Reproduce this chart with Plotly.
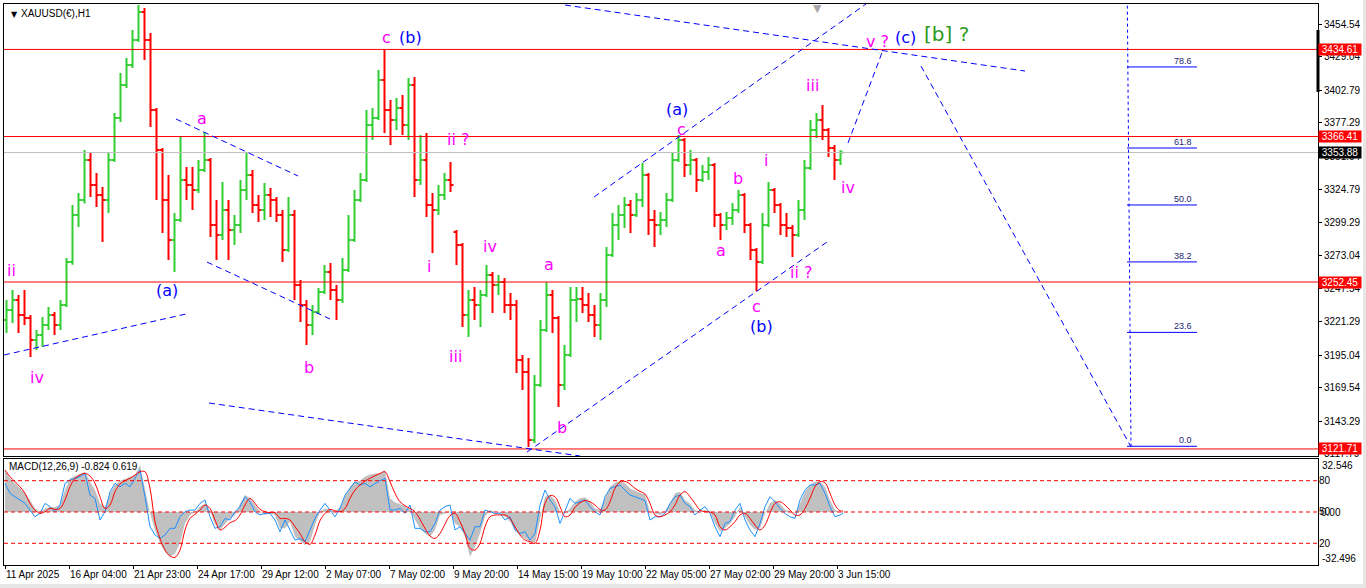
import plotly.graph_objects as go

# ---------------- XAUUSD(€) H1 price data, grouped into 6-hour bars ----------------
bar_open = [
    3222.7, 3230.5, 3238.4, 3226.6, 3224.2, 3207.0, 3211.0, 3218.8, 3226.6, 3218.8,
    3234.5, 3268.1, 3304.9, 3316.7, 3348.0, 3328.4, 3320.6, 3316.7, 3348.0, 3380.9,
    3406.7, 3422.4, 3442.0, 3463.9, 3442.0, 3387.2, 3355.8, 3316.7, 3285.4, 3301.0,
    3332.3, 3328.4, 3324.5, 3340.2, 3348.0, 3297.1, 3289.3, 3308.8, 3293.2, 3297.1,
    3324.5, 3336.3, 3312.8, 3308.8, 3320.6, 3316.7, 3304.9, 3277.5, 3304.9, 3250.1,
    3234.5, 3218.8, 3229.0, 3244.6, 3260.3, 3246.2, 3238.4, 3261.9, 3285.4, 3316.7,
    3332.3, 3375.4, 3380.9, 3410.7, 3387.2, 3379.3, 3388.7, 3375.4, 3406.7, 3332.3,
    3348.0, 3312.8, 3308.8, 3320.6, 3332.3, 3291.6, 3281.4, 3226.6, 3238.4, 3234.5,
    3242.3, 3257.9, 3250.1, 3252.5, 3234.5, 3234.5, 3191.4, 3182.0, 3128.7, 3171.8,
    3214.9, 3242.3, 3224.2, 3171.8, 3195.3, 3238.4, 3239.2, 3234.5, 3226.6, 3218.8,
    3238.4, 3273.6, 3297.1, 3304.9, 3312.8, 3304.9, 3316.7, 3336.3, 3301.0, 3297.1,
    3301.0, 3316.7, 3348.0, 3363.7, 3344.1, 3348.0, 3332.3, 3338.6, 3344.1, 3304.9,
    3297.1, 3302.6, 3308.8, 3320.6, 3297.1, 3277.5, 3268.1, 3297.1, 3324.5, 3312.8,
    3297.1, 3294.7, 3289.3, 3308.8, 3341.7, 3371.5, 3379.3, 3371.5, 3357.4, 3348.0,
]
bar_high = [
    3238.4, 3246.2, 3242.3, 3246.2, 3226.6, 3214.9, 3225.0, 3232.9, 3229.0, 3238.4,
    3271.3, 3312.8, 3322.2, 3355.8, 3353.5, 3337.8, 3326.9, 3353.5, 3384.8, 3416.1,
    3427.9, 3449.8, 3469.4, 3467.0, 3447.5, 3388.7, 3357.4, 3336.3, 3306.5, 3366.0,
    3342.5, 3342.5, 3348.0, 3369.9, 3349.6, 3316.7, 3330.8, 3316.7, 3304.9, 3332.3,
    3353.5, 3340.2, 3320.6, 3330.0, 3326.1, 3319.0, 3308.8, 3319.0, 3308.8, 3254.0,
    3238.4, 3234.5, 3247.8, 3265.8, 3267.4, 3250.1, 3271.3, 3304.9, 3324.5, 3337.8,
    3387.2, 3388.7, 3418.5, 3434.1, 3395.0, 3396.6, 3398.9, 3412.2, 3413.0, 3367.6,
    3369.1, 3322.2, 3328.4, 3337.8, 3346.4, 3293.2, 3283.0, 3246.2, 3248.6, 3246.2,
    3265.8, 3260.3, 3257.9, 3255.6, 3243.8, 3238.4, 3195.3, 3193.0, 3179.6, 3222.7,
    3252.5, 3246.2, 3225.8, 3203.1, 3248.6, 3248.6, 3248.6, 3243.8, 3234.5, 3243.8,
    3279.9, 3306.5, 3312.8, 3319.0, 3316.7, 3322.2, 3345.6, 3337.8, 3308.8, 3307.3,
    3322.2, 3353.5, 3367.6, 3365.2, 3355.8, 3349.6, 3344.1, 3350.4, 3345.6, 3306.5,
    3307.3, 3314.3, 3324.5, 3322.2, 3298.7, 3279.1, 3306.5, 3330.8, 3326.1, 3314.3,
    3306.5, 3297.1, 3316.7, 3348.0, 3379.3, 3384.8, 3391.1, 3373.1, 3359.7, 3355.8,
]
bar_low = [
    3212.6, 3220.3, 3212.6, 3218.8, 3193.7, 3199.2, 3201.6, 3214.9, 3211.0, 3214.9,
    3232.9, 3266.0, 3295.5, 3314.0, 3319.0, 3311.2, 3283.8, 3306.5, 3346.4, 3377.8,
    3404.4, 3420.0, 3440.4, 3426.3, 3373.8, 3316.7, 3290.8, 3269.7, 3260.3, 3299.4,
    3316.7, 3308.8, 3322.2, 3338.6, 3287.7, 3269.7, 3285.4, 3269.7, 3281.4, 3290.8,
    3316.7, 3306.5, 3299.4, 3301.0, 3303.4, 3299.4, 3268.1, 3276.0, 3238.4, 3221.1,
    3203.1, 3211.0, 3227.4, 3243.1, 3238.4, 3222.7, 3236.0, 3260.3, 3283.8, 3315.1,
    3330.8, 3363.7, 3379.3, 3369.1, 3359.7, 3371.5, 3367.6, 3363.7, 3319.0, 3328.4,
    3303.4, 3275.2, 3304.9, 3316.7, 3322.9, 3265.8, 3217.2, 3209.4, 3222.7, 3217.2,
    3240.7, 3228.2, 3242.3, 3228.2, 3222.7, 3181.2, 3167.9, 3123.2, 3126.4, 3170.2,
    3213.3, 3212.6, 3154.6, 3167.9, 3193.7, 3221.1, 3228.2, 3221.1, 3209.4, 3207.0,
    3232.9, 3272.1, 3285.4, 3294.7, 3290.8, 3303.4, 3311.2, 3289.3, 3279.9, 3289.3,
    3295.5, 3315.1, 3346.4, 3334.7, 3336.3, 3322.9, 3330.8, 3332.3, 3295.5, 3285.4,
    3293.2, 3297.1, 3306.5, 3290.8, 3269.7, 3245.4, 3266.6, 3295.5, 3306.5, 3289.3,
    3287.7, 3272.1, 3287.7, 3301.0, 3340.2, 3365.2, 3363.7, 3350.4, 3332.3, 3344.1,
]
bar_close = [
    3230.5, 3238.4, 3226.6, 3224.2, 3207.0, 3211.0, 3218.8, 3226.6, 3218.8, 3234.5,
    3268.1, 3304.9, 3316.7, 3348.0, 3328.4, 3320.6, 3316.7, 3348.0, 3380.9, 3406.7,
    3422.4, 3442.0, 3463.9, 3442.0, 3387.2, 3355.8, 3316.7, 3285.4, 3301.0, 3332.3,
    3328.4, 3324.5, 3340.2, 3348.0, 3297.1, 3289.3, 3308.8, 3293.2, 3297.1, 3324.5,
    3336.3, 3312.8, 3308.8, 3320.6, 3316.7, 3304.9, 3277.5, 3304.9, 3250.1, 3234.5,
    3218.8, 3229.0, 3244.6, 3260.3, 3246.2, 3238.4, 3261.9, 3285.4, 3316.7, 3332.3,
    3375.4, 3380.9, 3410.7, 3387.2, 3379.3, 3388.7, 3375.4, 3406.7, 3332.3, 3348.0,
    3312.8, 3308.8, 3320.6, 3332.3, 3328.4, 3281.4, 3226.6, 3238.4, 3234.5, 3242.3,
    3257.9, 3250.1, 3252.5, 3234.5, 3234.5, 3191.4, 3182.0, 3128.7, 3171.8, 3214.9,
    3242.3, 3224.2, 3171.8, 3195.3, 3238.4, 3239.2, 3234.5, 3226.6, 3218.8, 3238.4,
    3273.6, 3297.1, 3304.9, 3312.8, 3304.9, 3316.7, 3336.3, 3301.0, 3297.1, 3301.0,
    3316.7, 3348.0, 3363.7, 3344.1, 3348.0, 3332.3, 3338.6, 3344.1, 3304.9, 3297.1,
    3302.6, 3308.8, 3320.6, 3297.1, 3277.5, 3268.1, 3297.1, 3324.5, 3312.8, 3297.1,
    3294.7, 3289.3, 3308.8, 3341.7, 3371.5, 3379.3, 3371.5, 3357.4, 3348.0, 3353.88,
]
BAR_HOURS = 6
bar_hour = [BAR_HOURS * i + 2.5 for i in range(len(bar_close))]

# ---------------- MACD(12,26,9) window, sampled every 5 hours ----------------
ind_hour = list(range(1, 837, 5)) + [839]
macd_main = [
    25.8, 20.7, 17.6, 14.5, 11.5, 7.4, 2.2, 0.0, 2.2, 3.3,
    2.9, 4.3, 13.5, 20.7, 22.1, 23.3, 24.7, 18.6, 13.5, 5.3,
    3.3, 11.5, 16.6, 19.2, 20.5, 21.7, 22.7, 28.8, 13.5, -0.8,
    -11.0, -19.2, -24.3, -27.4, -25.4, -19.2, -7.0, -1.8, 0.2, 3.3,
    5.3, 0.8, -7.4, -11.0, -7.4, -3.9, -1.8, 5.3, 10.4, 8.4,
    4.3, 0.2, -1.8, -0.8, -1.8, -10.0, -10.0, -5.9, -15.1, -17.6,
    -20.2, -18.2, -8.0, 0.2, 2.2, 1.6, 0.2, 3.3, 9.4, 15.5,
    18.4, 19.2, 21.7, 23.1, 23.7, 23.7, 25.8, 8.4, 5.9, 4.7,
    3.7, 1.6, -4.9, -10.0, -13.1, -15.1, -11.0, -1.8, -0.8, 0.0,
    -7.0, -9.0, -15.1, -27.4, -21.3, -13.1, -2.9, 1.2, 0.2, -0.8,
    -2.9, -5.9, -11.0, -14.1, -16.2, -18.2, -19.2, -4.9, 9.4, 10.4,
    7.4, 0.2, -0.8, 2.2, 6.3, 8.4, 9.0, 6.3, 2.2, 1.2,
    8.4, 15.5, 18.0, 19.2, 17.6, 14.5, 13.1, 11.9, 10.8, 0.2,
    -0.8, -1.8, 0.2, 5.3, 11.5, 12.5, 7.4, 5.3, 1.2, 0.2,
    1.2, 0.0, -7.0, -12.1, -10.0, -7.0, -2.9, 3.3, -2.9, -8.0,
    -11.0, -10.0, -0.8, 5.3, 7.4, 5.3, 1.6, 0.2, -0.8, 5.3,
    12.5, 16.6, 18.6, 18.6, 15.5, 7.4, 1.2, 0.0, -0.824,
]
macd_fast = [
    17.6, 11.5, 9.4, 7.4, 5.3, 1.2, -2.9, -0.8, 5.3, 3.3,
    0.2, 4.3, 17.6, 19.6, 20.7, 21.7, 23.7, 10.4, 8.4, -4.9,
    0.2, 12.5, 17.6, 15.5, 17.6, 15.5, 20.7, 25.8, 9.4, -9.0,
    -14.1, -16.2, -14.1, -10.0, -10.0, -2.9, 0.2, 1.2, 1.2, 5.3,
    7.4, -2.9, -10.0, -9.0, -3.9, -4.9, 0.2, 3.3, 9.4, 6.3,
    0.2, -1.8, -0.8, -0.8, -4.9, -12.1, -4.9, -11.0, -17.2, -16.2,
    -18.2, -11.0, -3.9, 1.2, 5.3, 1.2, -2.9, 2.2, 10.4, 14.5,
    18.6, 16.6, 17.6, 15.5, 17.6, 19.2, 20.7, 1.2, 1.2, 2.2,
    -0.8, 4.3, -10.0, -10.0, -12.1, -12.1, -7.0, 1.2, 3.3, 4.3,
    -11.0, -9.0, -13.1, -17.2, -9.0, -9.0, 1.2, 0.2, -0.8, -0.8,
    -4.9, -2.9, -11.0, -13.1, -12.1, -17.2, -13.1, 4.3, 13.5, 7.4,
    3.3, -7.0, 1.2, 8.4, 5.3, 6.3, 7.4, 3.3, 0.2, -1.8,
    9.4, 14.5, 15.5, 16.6, 13.5, 10.4, 9.4, 8.4, 7.0, -4.9,
    -2.9, -2.9, -0.8, 5.3, 9.4, 10.4, 5.3, 3.3, -1.8, 1.2,
    3.3, -0.8, -9.0, -15.1, -7.0, -5.9, 1.2, 5.3, -4.9, -11.0,
    -15.1, -7.0, 3.3, 9.4, 6.3, 2.2, -0.8, -2.9, -3.9, 7.4,
    13.5, 16.6, 16.6, 17.6, 11.5, 3.3, -2.9, -1.8, -0.8,
]
macd_signal = [
    25.8, 21.7, 18.6, 15.5, 11.5, 5.3, 1.2, -0.8, 0.2, 2.2,
    1.6, 2.2, 7.4, 15.5, 20.7, 22.7, 23.7, 22.1, 17.6, 9.4,
    2.2, 4.3, 12.5, 17.2, 19.2, 20.7, 22.7, 24.7, 24.7, 14.5,
    -5.9, -16.2, -23.3, -27.0, -27.8, -23.3, -11.0, -3.9, -1.4, 1.2,
    4.3, 2.2, -4.9, -11.0, -9.4, -6.5, -5.3, -1.8, 4.3, 8.4,
    5.3, 1.6, 0.2, -0.4, -0.4, -3.9, -3.9, -4.9, -9.0, -13.1,
    -18.2, -19.8, -14.1, -5.3, -0.8, 1.6, 0.8, 0.2, 2.2, 8.4,
    13.5, 16.6, 19.0, 20.7, 22.3, 23.7, 24.7, 18.6, 11.5, 6.3,
    3.9, 2.2, 0.2, -4.5, -10.0, -14.7, -16.2, -13.1, -7.4, -2.2,
    -0.8, -5.9, -13.1, -22.3, -23.3, -19.2, -9.0, -2.9, -1.8, -1.8,
    -1.8, -3.9, -9.0, -14.1, -17.2, -18.2, -19.2, -11.0, 5.3, 10.0,
    9.4, 3.3, -2.9, -1.8, 2.9, 5.7, 7.0, 6.3, 4.3, 1.6,
    1.2, 6.3, 14.5, 18.4, 18.8, 17.2, 14.5, 12.7, 11.0, 5.3,
    -1.8, -2.9, -1.8, 0.2, 4.3, 10.4, 12.5, 9.4, 5.3, 1.2,
    0.2, 0.0, -1.8, -9.0, -11.0, -9.0, -5.9, -1.8, -0.8, -3.9,
    -8.0, -11.0, -8.0, -0.8, 5.3, 6.3, 4.3, 1.2, -1.8, -1.8,
    2.2, 8.4, 15.5, 18.6, 18.0, 11.5, 4.3, 0.8, 0.619,
]
macd_levels = [80, 50, 20]

# ---------------- axes labels ----------------
price_ticks = [3454.54, 3429.04, 3402.79, 3377.29, 3351.04, 3324.79, 3299.29,
               3273.04, 3247.54, 3221.29, 3195.04, 3169.54, 3143.29, 3117.79]
time_tick_hour = [1, 65, 129, 193, 257, 321, 385, 449, 513, 577, 641, 705, 769, 833]
time_tick_text = ["11 Apr 2025", "16 Apr 04:00", "21 Apr 23:00", "24 Apr 17:00",
                  "29 Apr 12:00", "2 May 07:00", "7 May 02:00", "9 May 20:00",
                  "14 May 15:00", "19 May 10:00", "22 May 05:00", "27 May 02:00",
                  "29 May 20:00", "3 Jun 15:00"]

# ---------------- drawing objects ----------------
red_levels = [3434.61, 3366.41, 3252.45, 3121.71]
bid_price = 3353.88

# trend / channel lines: ((hour, price), (hour, price))
channel_lines = [
    ((0, 3195.3), (182, 3227.4)),
    ((172, 3380.1), (294, 3335.5)),
    ((203, 3268.1), (326, 3223.5)),
    ((205, 3157.7), (576, 3116.2)),
    ((523, 3119.3), (826, 3285.4)),
    ((590, 3319.0), (862, 3470.2)),
    ((561, 3469.4), (1021, 3417.7)),
    ((844, 3361.3), (879, 3434.1)),
    ((917, 3421.6), (1127, 3123.3)),
]

# Fibonacci retracement
fib_low, fib_high = 3123.8, 3501.8
fib_ratios = [0.786, 0.618, 0.5, 0.382, 0.236, 0.0]
fib_text = ["78.6", "61.8", "50.0", "38.2", "23.6", "0.0"]
fib_start, fib_end = 1123, 1193

# Elliott wave labels: (hour, price, text, colour)
MAG, BLU, GRN = "#FF00FF", "#0000FF", "#2E9A1E"
wave_labels = [
    (7, 3261.1, "ii", MAG), (33, 3177.3, "iv", MAG), (163, 3246.2, "(a)", BLU),
    (198, 3380.9, "a", MAG), (305, 3185.9, "b", MAG), (382, 3444.3, "c", MAG),
    (406, 3444.3, "(b)", BLU), (454, 3363.7, "ii ?", MAG), (425, 3265.0, "i", MAG),
    (451, 3194.5, "iii", MAG), (486, 3279.9, "iv", MAG), (545, 3265.8, "a", MAG),
    (558, 3138.9, "b", MAG), (673, 3387.9, "(a)", BLU), (677, 3372.3, "c", MAG),
    (734, 3333.9, "b", MAG), (762, 3348.0, "i", MAG), (717, 3277.5, "a", MAG),
    (752, 3232.9, "c", MAG), (757, 3218.0, "(b)", BLU), (797, 3260.3, "ii ?", MAG),
    (808, 3406.0, "iii", MAG), (844, 3326.1, "iv", MAG), (873, 3441.2, "v ?", MAG),
    (901, 3444.3, "(c)", BLU),
]
big_label = (942, 3446.7, "[b] ?", GRN)

X_RANGE = [0, 1314]
MAIN_DOMAIN = [0.1943, 1.0]
IND_DOMAIN = [0.0, 0.18895]
FONT = "Liberation Sans"

fig = go.Figure()

fig.add_trace(go.Ohlc(
    x=bar_hour, open=bar_open, high=bar_high, low=bar_low, close=bar_close,
    increasing=dict(line=dict(color="#32CD32", width=2)),
    decreasing=dict(line=dict(color="#FF0000", width=2)),
    tickwidth=0.5, xaxis="x", yaxis="y", showlegend=False, hoverinfo="skip",
))

fig.add_trace(go.Scatter(
    x=ind_hour, y=macd_main, mode="lines", fill="tozeroy", fillcolor="#C0C0C0",
    line=dict(width=0, color="#C0C0C0"), xaxis="x2", yaxis="y2",
    showlegend=False, hoverinfo="skip",
))
fig.add_trace(go.Scatter(
    x=ind_hour, y=macd_fast, mode="lines", line=dict(color="#1E90FF", width=1),
    xaxis="x2", yaxis="y2", showlegend=False, hoverinfo="skip",
))
fig.add_trace(go.Scatter(
    x=ind_hour, y=macd_signal, mode="lines", line=dict(color="#FF0000", width=1, shape="spline"),
    xaxis="x2", yaxis="y2", showlegend=False, hoverinfo="skip",
))
# invisible trace so the 0-100 level axis is drawn
fig.add_trace(go.Scatter(
    x=[X_RANGE[0]], y=[50], mode="markers", marker=dict(opacity=0),
    xaxis="x2", yaxis="y3", showlegend=False, hoverinfo="skip",
))

shapes = []
for p in red_levels:
    shapes.append(dict(type="line", xref="paper", x0=0, x1=1, yref="y", y0=p, y1=p,
                       line=dict(color="#FF0000", width=1)))
shapes.append(dict(type="line", xref="paper", x0=0, x1=1, yref="y", y0=bid_price, y1=bid_price,
                   line=dict(color="#C0C0C0", width=1)))
for (h0, p0), (h1, p1) in channel_lines:
    shapes.append(dict(type="line", xref="x", yref="y", x0=h0, y0=p0, x1=h1, y1=p1,
                       line=dict(color="#0000FF", width=1, dash="6px,4px")))
for r in fib_ratios:
    lvl = fib_low + r * (fib_high - fib_low)
    shapes.append(dict(type="line", xref="x", yref="y", x0=fib_start, x1=fib_end, y0=lvl, y1=lvl,
                       line=dict(color="#0000FF", width=1)))
shapes.append(dict(type="line", xref="x", yref="y", x0=fib_start, y0=fib_high, x1=fib_start + 4, y1=fib_low,
                   line=dict(color="#0000FF", width=1, dash="dot")))
for lv in macd_levels:
    shapes.append(dict(type="line", xref="paper", x0=0, x1=1, yref="y3", y0=lv, y1=lv,
                       line=dict(color="#FF0000", width=1, dash="4px,3px")))
# thick marker on the price scale
shapes.append(dict(type="line", xref="paper", yref="paper", x0=1, x1=1, y0=0.9537, y1=0.8431,
                   line=dict(color="black", width=3)))
# window frame strips
shapes.append(dict(type="rect", xref="paper", yref="paper", x0=1.0343, x1=1.04, y0=-0.06, y1=1.01,
                   fillcolor="#E6E6E6", line=dict(width=0)))
shapes.append(dict(type="rect", xref="paper", yref="paper", x0=-0.01, x1=1.04, y0=-0.0339, y1=-0.05,
                   fillcolor="#E6E6E6", line=dict(width=0)))

annotations = []
for h, p, t, c in wave_labels:
    annotations.append(dict(x=h, y=p, xref="x", yref="y", text=t, showarrow=False,
                            font=dict(family="DejaVu Sans", size=16, color=c)))
h, p, t, c = big_label
annotations.append(dict(x=h, y=p, xref="x", yref="y", text=t, showarrow=False,
                        font=dict(family="DejaVu Sans", size=20, color=c)))
for r, t in zip(fib_ratios, fib_text):
    lvl = fib_low + r * (fib_high - fib_low)
    annotations.append(dict(x=fib_end - 3, y=lvl, xref="x", yref="y", text=t, showarrow=False,
                            xanchor="right", yanchor="bottom", yshift=-1,
                            font=dict(family=FONT, size=9, color="#1C1C6E")))
for p in red_levels:
    annotations.append(dict(x=1, y=p, xref="paper", yref="y", text=f" {p:.2f} ", showarrow=False,
                            xanchor="left", bgcolor="#FF0000", borderpad=0,
                            font=dict(family=FONT, size=10, color="white")))
annotations.append(dict(x=1, y=bid_price, xref="paper", yref="y", text=f" {bid_price:.2f} ",
                        showarrow=False, xanchor="left", bgcolor="black", borderpad=0,
                        font=dict(family=FONT, size=10, color="white")))
annotations.append(dict(x=0, y=1, xref="paper", yref="paper", text="▼", showarrow=False,
                        xanchor="left", yanchor="top", xshift=5, yshift=-4,
                        font=dict(family="DejaVu Sans", size=8, color="black")))
annotations.append(dict(x=0, y=1, xref="paper", yref="paper", text="XAUUSD(€),H1", showarrow=False,
                        xanchor="left", yanchor="top", xshift=15, yshift=-2,
                        font=dict(family=FONT, size=10, color="black")))
annotations.append(dict(x=813, y=1, xref="x", yref="paper", text="▼", showarrow=False,
                        yanchor="top", yshift=4,
                        font=dict(family="DejaVu Sans", size=11, color="#A8A8A8")))
annotations.append(dict(x=0, y=1, xref="paper", yref="y2 domain", text="MACD(12,26,9) -0.824 0.619",
                        showarrow=False, xanchor="left", yanchor="top", xshift=3, yshift=0,
                        font=dict(family=FONT, size=10, color="black")))
annotations.append(dict(x=1, y=1, xref="paper", yref="y2 domain", text="32.546", showarrow=False,
                        xanchor="left", yanchor="top", xshift=2, yshift=1,
                        font=dict(family=FONT, size=10, color="black")))
annotations.append(dict(x=1, y=0, xref="paper", yref="y2 domain", text="-32.496", showarrow=False,
                        xanchor="left", yanchor="bottom", xshift=2, yshift=-1,
                        font=dict(family=FONT, size=10, color="black")))

fig.update_layout(
    width=1366, height=588, autosize=False,
    margin=dict(l=4, r=48, t=4, b=23, autoexpand=False),
    paper_bgcolor="white", plot_bgcolor="white",
    font=dict(family=FONT, size=10, color="black"),
    showlegend=False,
    shapes=shapes, annotations=annotations,
    xaxis=dict(domain=[0, 1], anchor="y", range=X_RANGE, showticklabels=False, ticks="",
               showline=True, linecolor="black", linewidth=1, mirror=True, automargin=False,
               showgrid=False, zeroline=False, rangeslider=dict(visible=False)),
    yaxis=dict(domain=MAIN_DOMAIN, anchor="x", side="right", range=[3116.2, 3470.2],
               tickvals=price_ticks, ticktext=[f"{v:.2f}" for v in price_ticks],
               ticks="outside", ticklen=3, tickcolor="black", automargin=False,
               showline=True, linecolor="black", linewidth=1, mirror=True,
               showgrid=False, zeroline=False, tickfont=dict(family=FONT, size=10)),
    xaxis2=dict(domain=[0, 1], anchor="y2", matches="x", range=X_RANGE,
                tickvals=time_tick_hour, ticktext=time_tick_text, tickangle=0,
                ticks="outside", ticklen=3, tickcolor="black", ticklabelposition="outside right",
                showline=True, linecolor="black", linewidth=1, mirror=True, automargin=False,
                showgrid=False, zeroline=False, tickfont=dict(family=FONT, size=10)),
    yaxis2=dict(domain=IND_DOMAIN, anchor="x2", side="right", range=[-32.496, 32.546],
                tickvals=[0], ticktext=["0.00"], ticks="", automargin=False,
                showline=True, linecolor="black", linewidth=1, mirror=True,
                showgrid=False, zeroline=False, tickfont=dict(family=FONT, size=10)),
    yaxis3=dict(overlaying="y2", anchor="x2", side="right", range=[-0.8, 100.8],
                tickvals=macd_levels, ticktext=[str(v) for v in macd_levels], ticks="",
                showline=False, showgrid=False, zeroline=False, automargin=False,
                tickfont=dict(family=FONT, size=10)),
)

fig.write_html("out.html")
